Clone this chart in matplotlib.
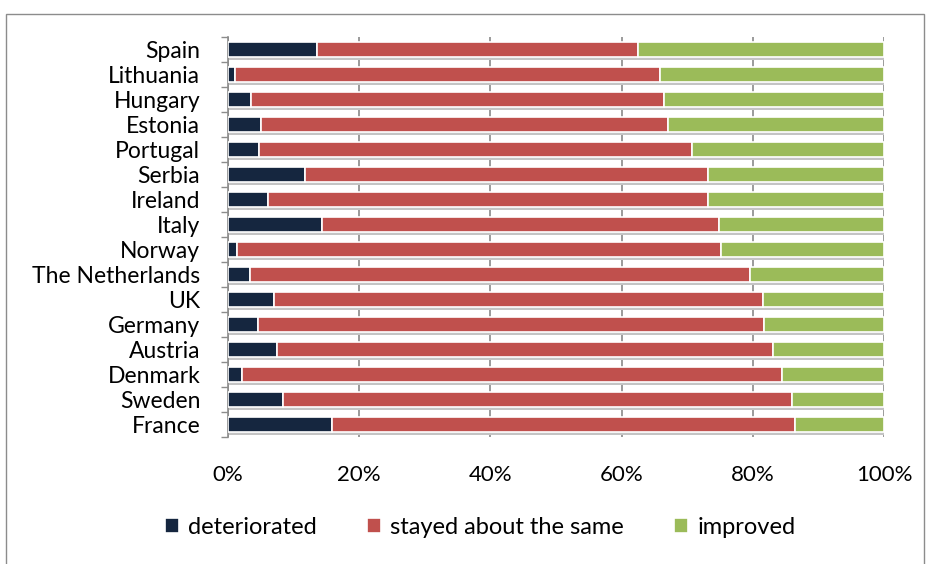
import matplotlib
matplotlib.use("Agg")
import matplotlib.pyplot as plt
import numpy as np
from matplotlib.patches import Rectangle

countries = ["Spain", "Lithuania", "Hungary", "Estonia", "Portugal", "Serbia",
             "Ireland", "Italy", "Norway", "The Netherlands", "UK", "Germany",
             "Austria", "Denmark", "Sweden", "France"]
deteriorated = [13.5, 1.1, 3.5, 5.0, 4.7, 11.7, 6.1, 14.4, 1.4, 3.3, 7.0, 4.6, 7.4, 2.2, 8.4, 15.8]
stayed_same = [49.0, 64.7, 62.9, 62.1, 66.1, 61.4, 67.0, 60.5, 73.8, 76.3, 74.6, 77.1, 75.7, 82.3, 77.6, 70.7]
improved = [37.5, 34.2, 33.6, 32.9, 29.2, 26.9, 26.9, 25.1, 24.8, 20.4, 18.4, 18.3, 16.9, 15.5, 14.0, 13.5]
series_names = ["deteriorated", "stayed about the same", "improved"]
xtick_vals = [0, 20, 40, 60, 80, 100]
xtick_labels = ["0%", "20%", "40%", "60%", "80%", "100%"]

colors = ["#15263f", "#c0504d", "#9bbb59"]

plt.rcParams['font.family'] = ['Lato', 'DejaVu Sans']

fig = plt.figure(figsize=(9.31, 5.64), dpi=100)
# outer border
fig.patches.append(Rectangle((6/931, -0.05), (924-6)/931, 1.05 - 14/564,
                             transform=fig.transFigure, fill=False,
                             edgecolor="#8c8c8c", linewidth=1.0))

ax = fig.add_axes([228/931, 1-437/564, 656/931, 400/564])

y = np.arange(len(countries))
data = [np.array(deteriorated), np.array(stayed_same), np.array(improved)]
totals = data[0] + data[1] + data[2]
data = [d / totals * 100 for d in data]

h = 0.6
# shadow
ax.barh(y + 0.12, data[0] + data[1] + data[2], height=h, color="#c4c4c4",
        edgecolor="none", zorder=1)
left = np.zeros(len(countries))
bars = []
for d, c, name in zip(data, colors, series_names):
    b = ax.barh(y, d, left=left, height=h, color=c, edgecolor="white",
                linewidth=1.2, label=name, zorder=3)
    bars.append(b)
    left = left + d

ax.set_xlim(0, 100)
ax.set_ylim(len(countries) - 0.5, -0.5)
ax.set_yticks(y)
ax.set_yticklabels(countries, fontsize=16.5)
ax.set_yticks(np.arange(len(countries) + 1) - 0.5, minor=True)
ax.tick_params(axis='y', which='major', length=0, pad=20)
ax.tick_params(axis='y', which='minor', length=5, color="#8c8c8c", width=1)
ax.set_xticks(xtick_vals)
ax.set_xticklabels(xtick_labels, fontsize=16)
ax.tick_params(axis='x', length=0, pad=20)
ax.grid(axis='x', color="#8a8a8a", linewidth=1.2, zorder=0)
ax.set_axisbelow(True)
for s in ["top", "right", "bottom"]:
    ax.spines[s].set_visible(False)
ax.spines["left"].set_color("#8c8c8c")
ax.spines["left"].set_linewidth(1.2)

fig.legend(handles=bars, labels=series_names, loc="center",
           bbox_to_anchor=(480/931, 1-527/564), ncol=3, frameon=False,
           fontsize=17, handlelength=0.6, handleheight=0.6,
           handletextpad=0.4, columnspacing=2.1)

fig.savefig("out.png", dpi=100)
